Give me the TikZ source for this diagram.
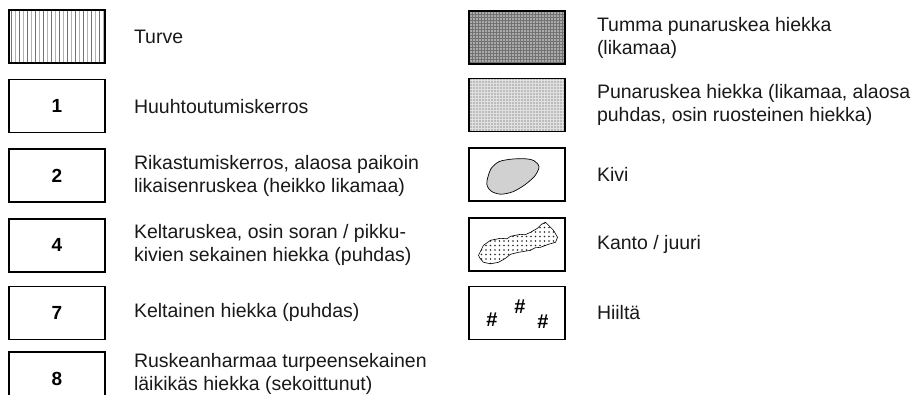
\documentclass[tikz,border=0pt]{standalone}
\usepackage{fontspec}
\setmainfont{Liberation Sans}
\usetikzlibrary{positioning, patterns.meta}

\tikzset{
  %% legend box
  legbox/.style={
    rectangle, draw=black, line width=1.6pt,
    minimum width=96pt, minimum height=53pt, inner sep=0pt,
    font=\bfseries\fontsize{19}{22}\selectfont
  },
  %% legend text
  legtxt/.style={
    anchor=west, align=left, inner sep=0pt, text=black!90,
    font=\fontsize{19.5}{23}\selectfont
  },
  %% dotted fill of the sand boxes
  sanddots/.style={
    preaction={fill=#1}, pattern={Dots[distance=3pt, radius=0.8pt]}
  },
}

\begin{document}
\begin{tikzpicture}[x=1pt, y=1pt]
  \useasboundingbox (0,0) rectangle (916,-394);
  \clip (0,0) rectangle (916,-394);

  %% left column
  \node[legbox, path picture={
      \foreach \i/\c in {2/black!55,6/black!30,10/black!55,14/black!30,
          18/black!55,22/black!30,26/black!55,30/black!30,34/black!55,
          38/black!30,42/black!55,46/black!30,50/black!55,54/black!30,
          58/black!55,62/black!30,66/black!55,70/black!30,74/black!55,
          78/black!30,82/black!55,86/black!30,90/black!55,94/black!30}
        \draw[\c, line width=1pt]
          ([xshift=\i pt]path picture bounding box.south west) --
          ([xshift=\i pt]path picture bounding box.north west);
    }] (turve) at (57,-36.5) {};
  \node[legbox, below=15pt of turve] (b1) {1};
  \node[legbox, below=15pt of b1] (b2) {2};
  \node[legbox, below=15pt of b2] (b4) {4};
  \node[legbox, below=13pt of b4] (b7) {7};
  \node[legbox, below=11pt of b7] (b8) {8};

  \node[legtxt, right=28pt of turve] (tturve) {Turve};
  \node[legtxt, right=28pt of b1] (t1) {Huuhtoutumiskerros};
  \node[legtxt, right=28pt of b2] (t2)
       {Rikastumiskerros, alaosa paikoin\\likaisenruskea (heikko likamaa)};
  \node[legtxt, right=28pt of b4] (t4)
       {Keltaruskea, osin soran / pikku-\\kivien sekainen hiekka (puhdas)};
  \node[legtxt, right=28pt of b7] (t7) {Keltainen hiekka (puhdas)};
  \node[legtxt, right=28pt of b8, yshift=4.5pt] (t8)
       {Ruskeanharmaa turpeensekainen\\läikikäs hiekka (sekoittunut)};

  %% right column
  \node[legbox, sanddots=black!55, pattern color=black!10]
       (tumma) at (517,-37.5) {};
  \node[legbox, sanddots=black!12, pattern color=black!40,
        below=13pt of tumma] (puna) {};
  \node[legbox, below=15pt of puna] (kivi) {};
  \node[legbox, below=15pt of kivi] (kanto) {};
  \node[legbox, below=14pt of kanto] (hiili) {};

  \node[legtxt, right=31pt of tumma] (ttumma)
       {Tumma punaruskea hiekka\\(likamaa)};
  \node[legtxt, right=31pt of puna] (tpuna)
       {Punaruskea hiekka (likamaa, alaosa\\puhdas, osin ruosteinen hiekka)};
  \node[legtxt, right=31pt of kivi] (tkivi) {Kivi};
  \node[legtxt, right=31pt of kanto] (tkanto) {Kanto / juuri};
  \node[legtxt, right=31pt of hiili] (thiili) {Hiiltä};

  %% stone
  \draw[shift={(kivi.center)}, fill=black!18, line width=0.7pt]
    plot[smooth cycle] coordinates {(-30,-6) (-26,6) (-18,13) (-6,15.5)
      (8,16) (17,14) (22,8) (18,-1) (8,-10) (-4,-17) (-16,-19.5)
      (-25,-17) (-29.5,-12)};

  %% stump / root
  \draw[shift={(kanto.center)}, fill=white, line width=0.6pt,
        pattern={Dots[distance=4.5pt, radius=0.8pt]}, pattern color=black!85]
    (-38.5,-11) -- (-33.5,-1) -- (-26.5,4) -- (-16.5,6) -- (-10,5.5)
    -- (-6.5,8) -- (3.5,10) -- (8,9.5) -- (13.5,12) -- (20.5,16)
    -- (24.5,20) -- (28.5,22) -- (30,20.5) -- (32.5,18) -- (36.5,14)
    -- (40.5,7) -- (38.5,2) -- (31.5,0) -- (23.5,-3) -- (18,-3.5)
    -- (13.5,-6) -- (1.5,-8) -- (-6.5,-10) -- (-11.5,-14) -- (-18.5,-18)
    -- (-26.5,-19.5) -- (-33.5,-18) -- (-37,-14) -- cycle;

  %% charcoal
  \foreach \px/\py in {-25/-6.5, 3/6.5, 26/-8.5}
    \node[font=\bfseries\fontsize{20}{22}\selectfont, inner sep=0pt]
      at ([shift={(\px,\py)}]hiili.center) {\#};

\end{tikzpicture}
\end{document}
